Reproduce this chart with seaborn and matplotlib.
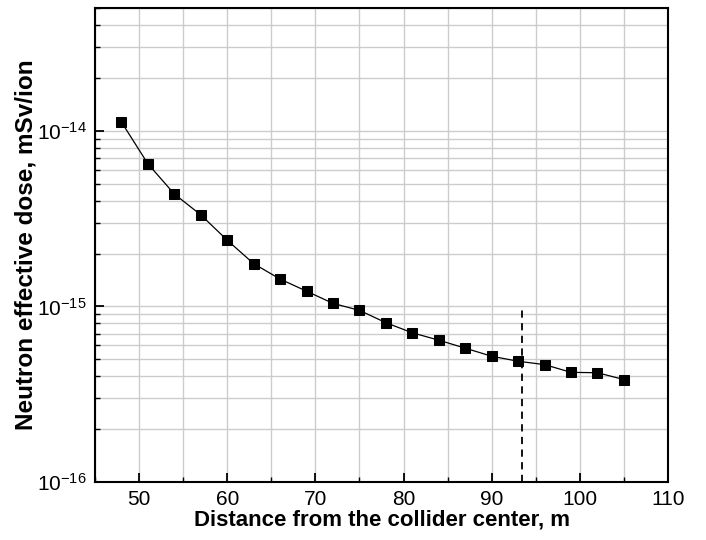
import matplotlib
matplotlib.use("Agg")
import matplotlib.pyplot as plt
import matplotlib.ticker as mticker
import seaborn as sns
import pandas as pd
import numpy as np

distance = [48, 51, 54, 57, 60, 63, 66, 69, 72, 75, 78, 81, 84, 87, 90, 93, 96, 99, 102, 105]
dose = [1.12e-14, 6.48e-15, 4.36e-15, 3.32e-15, 2.38e-15, 1.75e-15, 1.43e-15, 1.22e-15,
        1.04e-15, 9.49e-16, 8.07e-16, 7.07e-16, 6.42e-16, 5.78e-16, 5.20e-16, 4.87e-16,
        4.66e-16, 4.21e-16, 4.19e-16, 3.83e-16]
marker_x = [93.4]
marker_y = [1e-16, 1e-15]
y_major = [1e-16, 1e-15, 1e-14]

sns.set_style("ticks")
plt.rcParams['font.family'] = ['Liberation Sans', 'DejaVu Sans']
plt.rcParams['mathtext.fontset'] = 'custom'
plt.rcParams['mathtext.rm'] = 'Liberation Sans'
plt.rcParams['text.color'] = 'black'
plt.rcParams['axes.labelcolor'] = 'black'
plt.rcParams['xtick.color'] = 'black'
plt.rcParams['ytick.color'] = 'black'

fig = plt.figure(figsize=(7.06, 5.40), dpi=100)
ax = fig.add_axes([0.1346, 0.1074, 0.8116, 0.8778])

df = pd.DataFrame({"x": distance, "y": dose})
sns.lineplot(data=df, x="x", y="y", ax=ax, color="black", linewidth=0.9,
             marker="s", markersize=7.5, markeredgecolor="black", markerfacecolor="black",
             zorder=3)
ax.plot([marker_x[0], marker_x[0]], marker_y, color="black", linestyle=(0, (4, 3)),
        linewidth=1.3, zorder=2)

ax.set_yscale("log")
ax.set_xlim(45, 110)
ax.set_ylim(1e-16, 5e-14)

ax.xaxis.set_major_locator(mticker.MultipleLocator(10))
ax.xaxis.set_minor_locator(mticker.MultipleLocator(5))
ax.yaxis.set_major_locator(mticker.FixedLocator(y_major))
ax.yaxis.set_minor_locator(mticker.LogLocator(base=10, subs=np.arange(2, 10), numticks=20))
ax.yaxis.set_minor_formatter(mticker.NullFormatter())

def yfmt(v, pos):
    e = int(round(np.log10(v)))
    return r'$\mathregular{10^{%d}}$' % e
ax.yaxis.set_major_formatter(mticker.FuncFormatter(yfmt))

ax.grid(True, which="both", color="#cccccc", linewidth=1.0, zorder=0)
ax.set_axisbelow(True)

ax.tick_params(axis="both", which="major", direction="in", length=6.5, width=1.3,
               labelsize=15, pad=6, top=False, right=False, colors="black")
ax.tick_params(axis="both", which="minor", direction="in", length=3.6, width=1.0,
               top=False, right=False, colors="black")

for s in ax.spines.values():
    s.set_linewidth(1.5)
    s.set_color("black")

ax.set_xlabel("Distance from the collider center, m", fontsize=16, fontweight="bold",
              labelpad=0, color="black")
ax.set_ylabel("Neutron effective dose, mSv/ion", fontsize=17.5, fontweight="bold",
              color="black")
ax.yaxis.set_label_coords(-0.101, 0.5)

fig.savefig("out.png", dpi=100)
